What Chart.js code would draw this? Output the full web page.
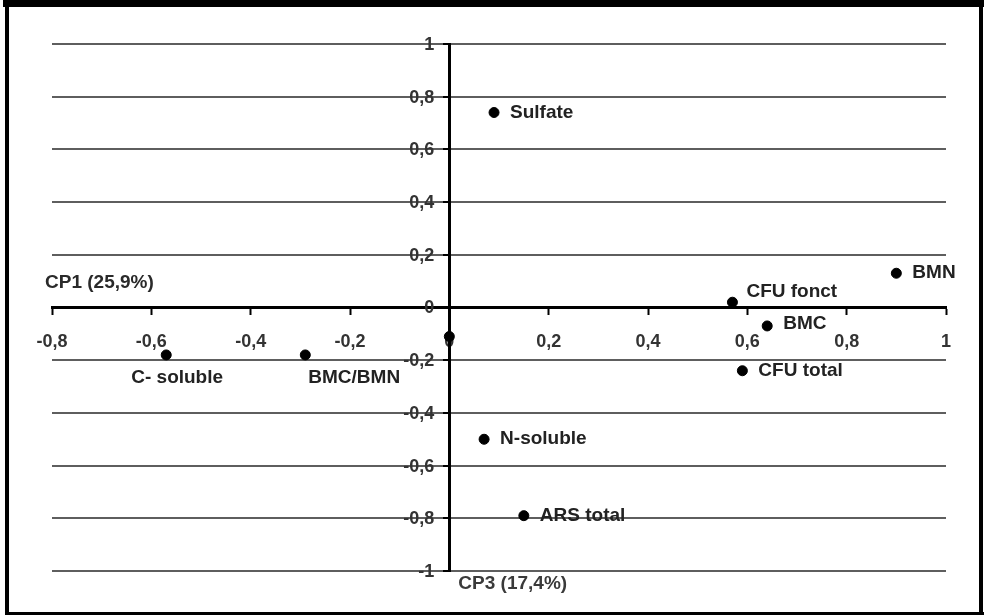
<!DOCTYPE html>
<html>
<head>
<meta charset="utf-8">
<script src="https://cdn.jsdelivr.net/npm/chart.js@4.4.1/dist/chart.umd.min.js"></script>
<style>
  html, body { margin: 0; padding: 0; background: #fff; }
  #wrap { width: 985px; height: 615px; }
</style>
</head>
<body>
<div id="wrap"><canvas id="myChart" width="985" height="615"></canvas></div>
<script>
// data (CP1 x CP3)
const variableNames = ['Sulfate', 'BMN', 'CFU fonct', 'BMC', 'CFU total', 'C- soluble', 'BMC/BMN', '', 'N-soluble', 'ARS total'];
const cp1Values = [0.09, 0.90, 0.57, 0.64, 0.59, -0.57, -0.29, 0.00, 0.07, 0.15];
const cp3Values = [0.74, 0.13, 0.02, -0.07, -0.24, -0.18, -0.18, -0.11, -0.50, -0.79];
const xTickValues = [-0.8, -0.6, -0.4, -0.2, 0, 0.2, 0.4, 0.6, 0.8, 1];
const yTickValues = [-1, -0.8, -0.6, -0.4, -0.2, 0, 0.2, 0.4, 0.6, 0.8, 1];
const xAxisTitle = 'CP1 (25,9%)';
const yAxisTitle = 'CP3 (17,4%)';

// where each name sits relative to its dot
const labelOffsets = [[16, 0], [16, 0], [14, -10], [16, -2], [16, 0], [-35, 23], [3, 23], [0, 0], [16, 0], [16, 0]];

const tickFont = { family: '"Liberation Sans", Arial, sans-serif', size: 18, weight: 'bold' };
const labelFont = 'bold 19px "Liberation Sans", Arial, sans-serif';

const formatTick = (v) => String(Number(v.toFixed(1))).replace('.', ',');

const points = cp1Values.map((x, i) => ({ x: x, y: cp3Values[i] }));

const framePlugin = {
    id: 'frame',
    beforeDraw(chart) {
        const ctx = chart.ctx;
        ctx.save();
        ctx.fillStyle = '#fff';
        ctx.fillRect(0, 0, chart.width, chart.height);
        ctx.restore();
    },
    afterDraw(chart) {
        const ctx = chart.ctx;
        ctx.save();
        ctx.fillStyle = '#000';
        ctx.fillRect(3, 0, 981, 7);     // top
        ctx.fillRect(5, 0, 4, 615);     // left
        ctx.fillRect(5, 612, 979, 3);   // bottom
        ctx.fillRect(979, 0, 4, 615);   // right
        ctx.restore();
    }
};

const namesPlugin = {
    id: 'names',
    afterDatasetsDraw(chart) {
        const ctx = chart.ctx;
        const meta = chart.getDatasetMeta(0);
        const xScale = chart.scales.x;
        const yScale = chart.scales.y;
        const axisX = xScale.getPixelForValue(0);
        ctx.save();

        // y tick labels, set back from the axis
        ctx.fillStyle = '#333';
        ctx.font = 'bold 18px "Liberation Sans", Arial, sans-serif';
        ctx.textAlign = 'right';
        ctx.textBaseline = 'middle';
        yScale.ticks.forEach(t => {
            ctx.fillText(formatTick(t.value), axisX - 15, yScale.getPixelForValue(t.value) + 1);
        });

        ctx.fillStyle = '#222';
        ctx.font = labelFont;
        ctx.textAlign = 'left';
        meta.data.forEach((pt, i) => {
            if (!variableNames[i]) return;
            const off = labelOffsets[i];
            ctx.fillText(variableNames[i], pt.x + off[0], pt.y + off[1]);
        });

        // axis titles
        ctx.fillStyle = '#2a2a2a';
        ctx.fillText(xAxisTitle, xScale.left - 7, yScale.getPixelForValue(0.095));
        ctx.fillStyle = '#3a3a3a';
        ctx.fillText(yAxisTitle, axisX + 9, yScale.bottom + 13);
        ctx.restore();
    }
};

const ctx = document.getElementById('myChart').getContext('2d');

new Chart(ctx, {
    type: 'scatter',
    data: {
        datasets: [{
            label: 'variables',
            data: points,
            backgroundColor: '#000',
            borderColor: '#000',
            pointRadius: 5,
            pointHoverRadius: 5
        }]
    },
    options: {
        responsive: false,
        animation: false,
        events: [],
        layout: { padding: { left: 52, right: 39, top: 44, bottom: 44 } },
        plugins: {
            legend: { display: false },
            tooltip: { enabled: false }
        },
        scales: {
            x: {
                type: 'linear',
                min: -0.8,
                max: 1,
                position: { y: 0 },
                afterBuildTicks: (scale) => { scale.ticks = xTickValues.map(v => ({ value: v })); },
                afterFit: (scale) => { scale.height = 0; },
                grid: {
                    drawOnChartArea: false,
                    drawTicks: true,
                    tickLength: 6,
                    tickColor: '#000',
                    tickWidth: 2
                },
                border: { display: true, color: '#000', width: 3 },
                ticks: {
                    autoSkip: false,
                    maxRotation: 0,
                    padding: 18,
                    color: '#333',
                    font: tickFont,
                    callback: (v) => formatTick(v)
                }
            },
            y: {
                type: 'linear',
                min: -1,
                max: 1,
                position: { x: 0 },
                afterBuildTicks: (scale) => { scale.ticks = yTickValues.map(v => ({ value: v })); },
                afterFit: (scale) => { scale.width = 0; },
                grid: {
                    color: '#5e5e5e',
                    lineWidth: 2,
                    drawTicks: true,
                    tickLength: 5,
                    tickColor: '#000',
                    tickWidth: 2
                },
                border: { display: true, color: '#000', width: 3 },
                ticks: {
                    display: false,
                    autoSkip: false
                }
            }
        }
    },
    plugins: [framePlugin, namesPlugin]
});
</script>
</body>
</html>
